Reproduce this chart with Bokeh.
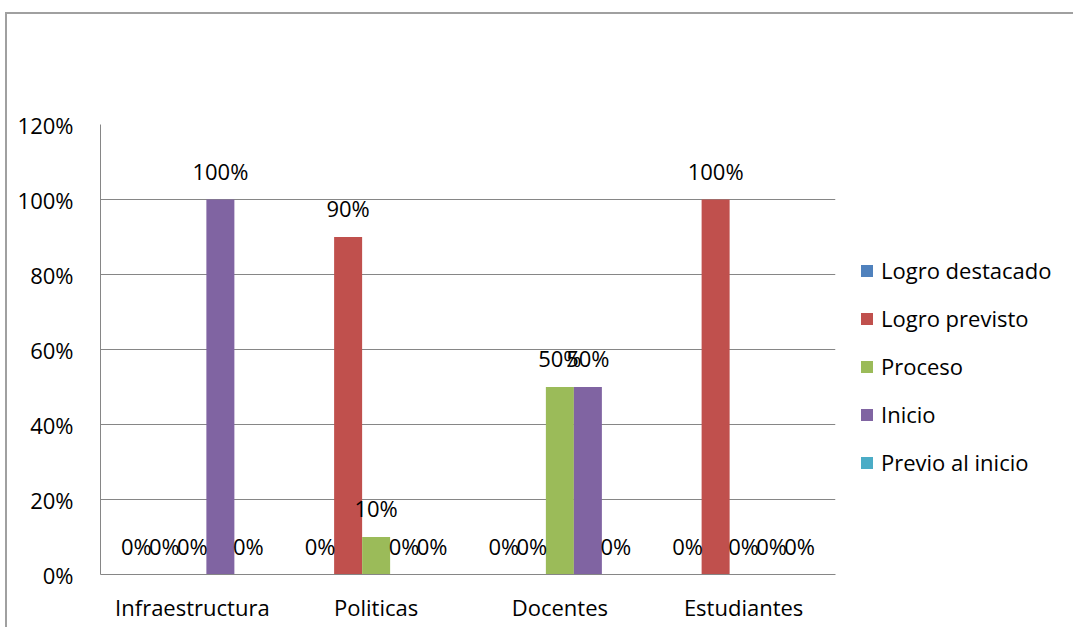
from bokeh.plotting import figure
from bokeh.models import ColumnDataSource, Legend, LegendItem, PrintfTickFormatter, FixedTicker, Range1d
from bokeh.transform import dodge
from bokeh.core.properties import value
from bokeh.embed import file_html
from bokeh.resources import INLINE

categories = ["Infraestructura", "Politicas", "Docentes", "Estudiantes"]
series = ["Logro destacado", "Logro previsto", "Proceso", "Inicio", "Previo al inicio"]
logro_destacado = [0, 0, 0, 0]
logro_previsto = [0, 90, 0, 100]
proceso = [0, 10, 50, 0]
inicio = [100, 0, 50, 0]
previo_al_inicio = [0, 0, 0, 0]
colors = ["#4F81BD", "#C0504D", "#9BBB59", "#8064A2", "#4BACC6"]
y_ticks = [0, 20, 40, 60, 80, 100, 120]

values = [logro_destacado, logro_previsto, proceso, inicio, previo_al_inicio]
data = {"cat": categories}
for i, v in enumerate(values):
    data[f"s{i}"] = v
    data[f"l{i}"] = [f"{x}%" for x in v]
src = ColumnDataSource(data)

FONT = "Open Sans"
FS = "22px"
GRID = "#868686"

p = figure(x_range=categories, y_range=Range1d(0, 120), frame_width=735, frame_height=450,
           output_backend="svg", toolbar_location=None,
           min_border_left=93, min_border_top=110, min_border_right=232, min_border_bottom=53)
p.styles = {"margin-left": "5px", "margin-top": "12px",
            "border-left": "2px solid #a0a0a0", "border-top": "2px solid #a0a0a0"}

bw = 0.1524
renderers = []
for i, name in enumerate(series):
    off = (i - 2) * bw
    r = p.vbar(x=dodge("cat", off, range=p.x_range), top=f"s{i}", width=bw, source=src,
               fill_color=colors[i], line_color=None)
    renderers.append(r)
for i, name in enumerate(series):
    off = (i - 2) * bw
    p.text(x=dodge("cat", off, range=p.x_range), y=f"s{i}", text=f"l{i}", source=src,
           text_align="center", text_baseline="middle", y_offset=-29,
           text_font=value(FONT), text_font_size=FS, text_color="#000000")

p.yaxis.ticker = FixedTicker(ticks=y_ticks)
p.yaxis.formatter = PrintfTickFormatter(format="%d%%")
for ax in (p.xaxis, p.yaxis):
    ax.axis_line_color = GRID
    ax.major_tick_line_color = None
    ax.minor_tick_line_color = None
    ax.major_label_text_font = FONT
    ax.major_label_text_font_size = FS
    ax.major_label_text_color = "#000000"
p.yaxis.major_label_standoff = 21
p.xaxis.major_label_standoff = 11
p.xgrid.grid_line_color = None
p.ygrid.grid_line_color = GRID
p.outline_line_color = None

legend = Legend(items=[LegendItem(label=n, renderers=[r]) for n, r in zip(series, renderers)],
                location=(24, 97), padding=0, margin=0, spacing=18,
                glyph_width=15, glyph_height=15, label_height=20, label_standoff=7,
                label_text_font=FONT, label_text_font_size=FS, label_text_color="#000000",
                border_line_color=None, background_fill_alpha=0)
p.add_layout(legend, "right")

open("out.html", "w").write(file_html(p, INLINE))
